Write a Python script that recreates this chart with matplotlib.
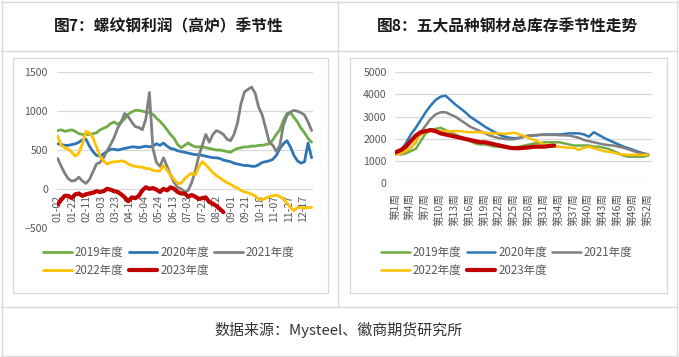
import numpy as np
import matplotlib
matplotlib.use("Agg")
import matplotlib.pyplot as plt
from matplotlib.lines import Line2D

plt.rcParams['font.family'] = ['Noto Sans CJK SC', 'DejaVu Sans']

# ---------------- data: left chart (rebar profit, blast furnace) ----------------
left_tick_labels = ["01-02", "01-22", "02-11", "03-03", "03-23", "04-12", "05-04", "05-24",
                    "06-13", "07-03", "07-23", "08-12", "09-01", "09-21", "10-18", "11-07",
                    "11-27", "12-17"]
profit_2019 = [750, 760, 740, 750, 760, 740, 710, 700, 700, 700, 710, 720, 760, 780, 800, 840,
               860, 830, 860, 900, 960, 990, 1010, 1010, 1000, 990, 980, 960, 910, 870, 820, 760,
               700, 650, 570, 530, 560, 590, 560, 540, 540, 540, 530, 520, 510, 500, 500, 490,
               480, 470, 500, 520, 530, 540, 540, 550, 550, 560, 560, 570, 580, 630, 700, 760,
               880, 970, 980, 920, 860, 780, 720, 650, 600]
profit_2020 = [580, 570, 560, 560, 570, 580, 600, 630, 640, 550, 480, 430, 420, 450, 480, 510,
               510, 500, 510, 520, 530, 540, 540, 530, 540, 550, 540, 550, 580, 560, 590, 550,
               520, 510, 490, 480, 470, 460, 450, 440, 440, 430, 420, 410, 400, 400, 390, 370,
               360, 350, 330, 320, 310, 300, 300, 290, 290, 310, 340, 350, 360, 380, 430, 520,
               580, 620, 540, 430, 360, 330, 350, 590, 400]
profit_2021 = [390, 290, 200, 130, 100, 110, 150, 100, 70, 120, 220, 320, 340, 400, 490, 570,
               660, 780, 860, 970, 930, 860, 800, 790, 760, 900, 1240, 520, 340, 290, 400, 290,
               180, 80, 20, 0, -40, -20, 80, 230, 420, 560, 700, 600, 700, 750, 730, 700,
               640, 620, 700, 850, 1100, 1250, 1280, 1310, 1230, 1050, 950, 780, 600, 560, 480, 560,
               820, 940, 990, 1010, 1000, 980, 950, 860, 750]
profit_2022 = [680, 560, 530, 510, 470, 420, 460, 580, 740, 720, 660, 540, 420, 360, 320, 340,
               350, 350, 360, 350, 320, 300, 290, 280, 280, 260, 260, 240, 230, 230, 300, 240,
               180, 120, 70, 70, 130, 170, 200, 180, 280, 350, 310, 260, 210, 170, 140, 110,
               80, 60, 30, 10, -20, -40, -50, -70, -90, -130, -140, -120, -100, -90, -80, -100,
               -130, -180, -240, -280, -240, -240, -250, -240, -240]
profit_2023 = [-200, -140, -90, -90, -120, -70, -60, -90, -70, -60, -50, -30, -40, -30, 0, -10,
               -30, -40, -70, -110, -160, -110, -120, -90, -20, 20, 0, 10, -10, -40, 0, -20,
               20, 0, -40, -60, -60, -100, -80, -100, -130, -120, -110, -170, -190, -220, -260, -300]

# ---------------- data: right chart (five steel products inventory) ----------------
week_labels = ["第%d周" % w for w in range(1, 53, 3)]
inv_2019 = [1350, 1300, 1350, 1450, 1550, 1900, 2250, 2400, 2450, 2500,
            2400, 2300, 2200, 2100, 2000, 1900, 1800, 1750, 1750, 1700,
            1650, 1650, 1600, 1600, 1600, 1650, 1700, 1750, 1800, 1800,
            1850, 1850, 1850, 1850, 1800, 1750, 1700, 1700, 1700, 1700,
            1650, 1650, 1600, 1550, 1450, 1350, 1250, 1200, 1200, 1200,
            1200, 1250]
inv_2020 = [1400, 1500, 1800, 2200, 2500, 2850, 3200, 3500, 3750, 3900,
            3950, 3750, 3550, 3380, 3200, 3000, 2850, 2700, 2550, 2420,
            2300, 2180, 2100, 2050, 2030, 2050, 2100, 2150, 2150, 2180,
            2200, 2200, 2200, 2200, 2220, 2250, 2250, 2250, 2200, 2100,
            2300, 2180, 2050, 1950, 1850, 1750, 1650, 1580, 1500, 1420,
            1350, 1300]
inv_2021 = [1300, 1350, 1450, 1600, 1850, 2300, 2600, 2900, 3100, 3200,
            3200, 3100, 3000, 2850, 2700, 2550, 2450, 2350, 2250, 2150,
            2080, 2030, 2000, 1980, 1990, 2050, 2120, 2150, 2170, 2180,
            2180, 2180, 2180, 2170, 2160, 2150, 2100, 2050, 1950, 1900,
            1850, 1800, 1750, 1720, 1700, 1650, 1600, 1530, 1450, 1380,
            1330, 1300]
inv_2022 = [1300, 1350, 1450, 1600, 1900, 2200, 2300, 2350, 2350, 2350,
            2350, 2350, 2350, 2350, 2320, 2300, 2300, 2300, 2280, 2250,
            2250, 2250, 2220, 2250, 2280, 2200, 2120, 2030, 1950, 1850,
            1750, 1700, 1650, 1650, 1620, 1600, 1600, 1500, 1600, 1650,
            1580, 1520, 1450, 1420, 1380, 1320, 1300, 1280, 1280, 1280,
            1280, 1280]
inv_2023 = [1400, 1500, 1650, 1900, 2150, 2300, 2350, 2400, 2350, 2250,
            2200, 2150, 2100, 2050, 2000, 1950, 1900, 1850, 1850, 1800,
            1750, 1700, 1650, 1600, 1580, 1580, 1600, 1620, 1650, 1650,
            1650, 1680, 1700]

series_names = ["2019年度", "2020年度", "2021年度", "2022年度", "2023年度"]
colors = ["#70AD47", "#2E75B6", "#808080", "#FFC000", "#C00000"]

titles = ["图7：螺纹钢利润（高炉）季节性", "图8：五大品种钢材总库存季节性走势"]
source_text = "数据来源：Mysteel、徽商期货研究所"

# ---------------- figure ----------------
W, H = 679, 357
fig = plt.figure(figsize=(W / 100, H / 100), dpi=100)
fig.patch.set_facecolor("white")


def fx(px):
    return px / W


def fy(py):
    return 1 - py / H


def hline(x0, x1, y, c="#DADADA", lw=1.0):
    fig.add_artist(Line2D([fx(x0), fx(x1)], [fy(y), fy(y)], color=c, lw=lw,
                          transform=fig.transFigure))


def vline(x, y0, y1, c="#DADADA", lw=1.0):
    fig.add_artist(Line2D([fx(x), fx(x)], [fy(y0), fy(y1)], color=c, lw=lw,
                          transform=fig.transFigure))


# table frame
hline(1, 677, 1.5)
hline(1, 677, 355.5)
vline(1.5, 1, 356)
vline(676.5, 1, 356)
hline(1, 677, 51)
hline(1, 677, 307)
vline(337.5, 1, 307)
# inner chart boxes
for (x0, x1) in [(13, 328), (350, 667)]:
    hline(x0, x1, 58, c="#D9D9D9", lw=0.9)
    hline(x0, x1, 293, c="#D9D9D9", lw=0.9)
    vline(x0, 58, 293, c="#D9D9D9", lw=0.9)
    vline(x1, 58, 293, c="#D9D9D9", lw=0.9)

# titles and source
fig.text(fx(169), fy(26.5), titles[0], ha="center", va="center", fontsize=11.3,
         fontweight="bold", color="#1a1a1a")
fig.text(fx(508), fy(26.5), titles[1], ha="center", va="center", fontsize=11.3,
         fontweight="bold", color="#1a1a1a")
fig.text(fx(339), fy(330), source_text, ha="center", va="center", fontsize=10.8,
         color="#333333")

tick_color = "#595959"
grid_color = "#D9D9D9"

# ---------------- left axes ----------------
axL = fig.add_axes([fx(57), fy(227.7), fx(313) - fx(57), fy(72.3) - fy(227.7)])
axL.spines["bottom"].set_position(("data", 0))
x_left = np.arange(len(profit_2019)) * 5
x_left23 = np.arange(len(profit_2023)) * 5
left_series = [profit_2019, profit_2020, profit_2021, profit_2022, profit_2023]
handlesL = []
for i, (vals, c) in enumerate(zip(left_series, colors)):
    xs = x_left23 if i == 4 else x_left
    lw = 3.0 if i == 4 else 2.0
    h, = axL.plot(xs, vals, color=c, lw=lw, solid_joinstyle="round", solid_capstyle="round",
                  label=series_names[i], zorder=3 + i)
    handlesL.append(h)
axL.set_xlim(-1, 362)
axL.set_ylim(-500, 1500)
axL.set_yticks([-500, 0, 500, 1000, 1500])
axL.set_xticks(np.arange(len(left_tick_labels)) * 20.5)
axL.set_xticklabels(left_tick_labels, rotation=90, va="top", ha="center")
for s in axL.spines.values():
    s.set_visible(False)
axL.yaxis.grid(True, color=grid_color, lw=0.9)
axL.set_axisbelow(True)
axL.tick_params(axis="both", length=0, colors=tick_color, labelsize=7.6)
axL.tick_params(axis="y", pad=6.5)
axL.tick_params(axis="x", pad=4.5)
axL.patch.set_alpha(0)

# ---------------- right axes ----------------
axR = fig.add_axes([fx(395), fy(183.3), fx(651.7) - fx(395), fy(72.3) - fy(183.3)])
right_series = [inv_2019, inv_2020, inv_2021, inv_2022, inv_2023]
handlesR = []
for i, (vals, c) in enumerate(zip(right_series, colors)):
    xs = np.arange(1, len(vals) + 1)
    lw = 3.0 if i == 4 else 1.8
    h, = axR.plot(xs, vals, color=c, lw=lw, solid_joinstyle="round", solid_capstyle="round",
                  label=series_names[i], zorder=3 + i)
    handlesR.append(h)
axR.set_xlim(0.8, 52.7)
axR.set_ylim(0, 5000)
axR.set_yticks([0, 1000, 2000, 3000, 4000, 5000])
axR.set_xticks(np.arange(1, 53, 3))
axR.set_xticklabels(week_labels, rotation=90, va="top", ha="center")
for s in axR.spines.values():
    s.set_visible(False)
axR.yaxis.grid(True, color=grid_color, lw=0.9)
axR.set_axisbelow(True)
axR.tick_params(axis="both", length=0, colors=tick_color, labelsize=7.6)
axR.tick_params(axis="y", pad=6)
axR.tick_params(axis="x", pad=7)

# ---------------- legends ----------------
order = [0, 3, 1, 4, 2]
for ax, hs, x0 in [(axL, handlesL, 43), (axR, handlesR, 381)]:
    leg = fig.legend([hs[k] for k in order], [series_names[k] for k in order],
                     loc="upper left", bbox_to_anchor=(fx(x0), fy(246)),
                     bbox_transform=fig.transFigure, ncol=3, frameon=False,
                     fontsize=8.3, handlelength=2.5, handletextpad=0.25,
                     columnspacing=0.45, labelspacing=0.45, borderpad=0,
                     borderaxespad=0)
    for t in leg.get_texts():
        t.set_color(tick_color)

fig.savefig("out.png", dpi=100, facecolor="white")
